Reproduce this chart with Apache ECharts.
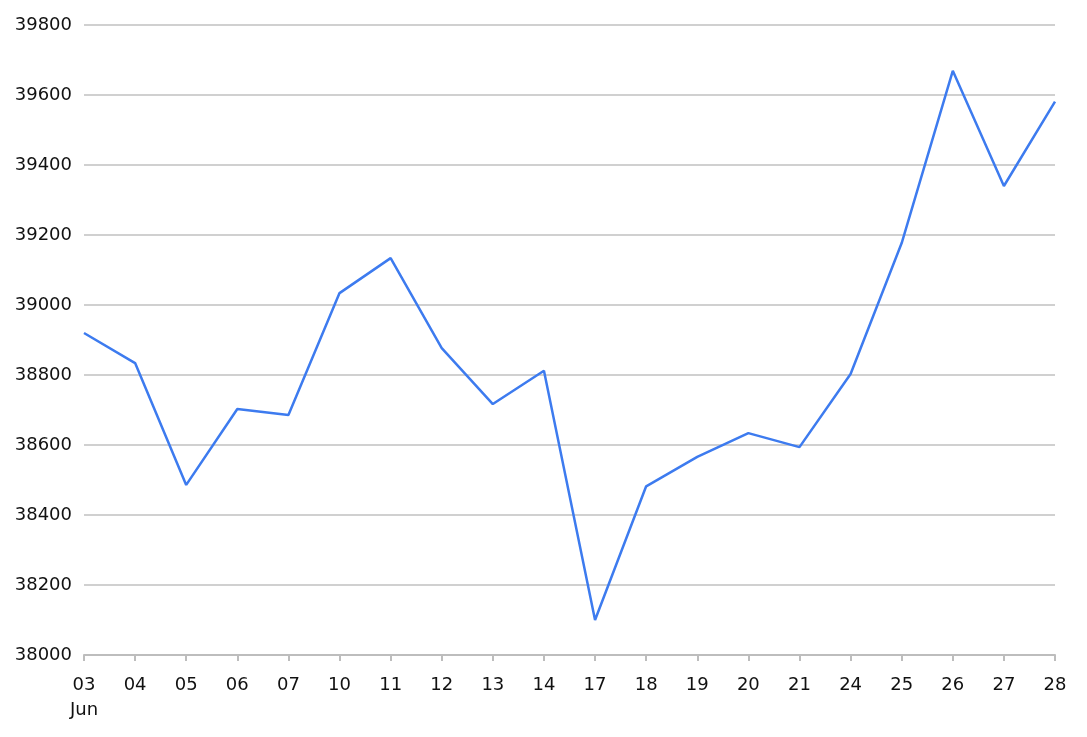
<!DOCTYPE html>
<html>
<head>
<meta charset="utf-8">
<script src="https://cdn.jsdelivr.net/npm/echarts@6/dist/echarts.min.js"></script>
<style>
html,body{margin:0;padding:0;background:#fff;}
#chart{width:1087px;height:737px;}
</style>
</head>
<body>
<div id="chart"></div>
<script>
const days = ['03','04','05','06','07','10','11','12','13','14','17','18','19','20','21','24','25','26','27','28'];
const monthLabel = 'Jun';
const values = [38920,38834,38486,38703,38686,39034,39134,38877,38717,38812,38100,38482,38566,38634,38594,38803,39177,39669,39340,39581];
const yMin = 38000, yMax = 39800, yStep = 200;

const chart = echarts.init(document.getElementById('chart'));
chart.setOption({
  animation: false,
  grid: {left: 84, right: 32, top: 25, bottom: 82},
  xAxis: {
    type: 'category',
    data: days,
    boundaryGap: false,
    axisLine: {lineStyle: {color: '#bdbdbd', width: 2}},
    axisTick: {length: 6, lineStyle: {color: '#bdbdbd', width: 2}},
    axisLabel: {
      fontFamily: 'DejaVu Sans', fontSize: 18, color: '#111', margin: 18, lineHeight: 25,
      formatter: (v, i) => i === 0 ? v + '\n' + monthLabel : v
    }
  },
  yAxis: {
    type: 'value', min: yMin, max: yMax, interval: yStep,
    axisLine: {show: false}, axisTick: {show: false},
    splitLine: {lineStyle: {color: '#c0c0c0', width: 1.5}},
    axisLabel: {fontFamily: 'DejaVu Sans', fontSize: 18, color: '#111', margin: 12,
      formatter: v => String(v)}
  },
  series: [{
    type: 'line', data: values, showSymbol: false,
    lineStyle: {color: '#3d7bef', width: 2.5},
    itemStyle: {color: '#3d7bef'}
  }]
});
</script>
</body>
</html>
